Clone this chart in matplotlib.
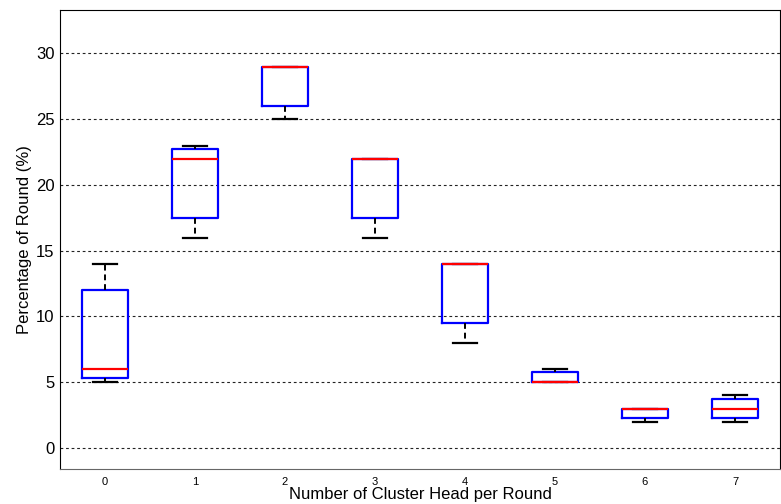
import matplotlib.pyplot as plt

plt.rcParams['font.family'] = ['Liberation Sans', 'DejaVu Sans']

# box statistics for each cluster-head count
heads = [0, 1, 2, 3, 4, 5, 6, 7]
wlo = [5, 16, 25, 16, 8, 5, 2, 2]
q1 = [5.3, 17.5, 26, 17.5, 9.5, 5, 2.25, 2.25]
med = [6, 22, 29, 22, 14, 5, 3, 3]
q3 = [12, 22.75, 29, 22, 14, 5.75, 3, 3.75]
whi = [14, 23, 29, 22, 14, 6, 3, 4]

stats = []
for i in range(len(heads)):
    stats.append(dict(whislo=wlo[i], q1=q1[i], med=med[i], q3=q3[i], whishi=whi[i], fliers=[]))

fig = plt.figure(figsize=(7.81, 5.04), dpi=100)
ax = fig.add_axes([0.0768, 0.0694, 0.9219, 0.9106])

ax.bxp(stats, positions=heads, widths=0.51, capwidths=0.27, showfliers=False,
       boxprops=dict(color='#0000ff', linewidth=1.6),
       medianprops=dict(color='#ff0000', linewidth=1.6),
       whiskerprops=dict(color='black', linewidth=1.4, linestyle=(0, (3, 2))),
       capprops=dict(color='black', linewidth=1.6))

for y in range(0, 31, 5):
    ax.axhline(y, color='#222222', linewidth=0.8, linestyle=(0, (2.5, 2.5)), zorder=0)

ax.set_xlim(-0.5, 7.5)
ax.set_ylim(-1.6, 33.3)
ax.set_yticks(range(0, 31, 5))
ax.set_xticks(heads)
ax.set_xticklabels([str(h) for h in heads], fontsize=8)
ax.tick_params(axis='y', labelsize=12, length=0, pad=4)
ax.tick_params(axis='x', length=0, pad=6)
ax.set_xlabel('Number of Cluster Head per Round', fontsize=12, labelpad=0)
ax.set_ylabel('Percentage of Round (%)', fontsize=12, labelpad=3)
for s in ax.spines.values():
    s.set_linewidth(0.8)
ax.spines['bottom'].set_color('#666666')

fig.savefig('out.png', dpi=100)
